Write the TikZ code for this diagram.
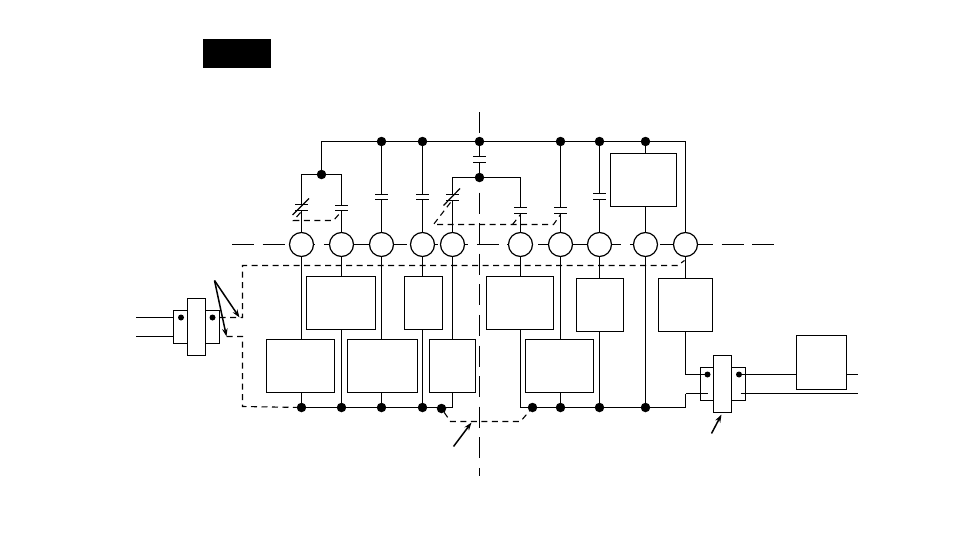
\documentclass[tikz,border=0pt]{standalone}
\usetikzlibrary{arrows.meta}
\tikzset{
  line/.style={line width=1.2pt,black},
  axisline/.style={line width=1.2pt,dash pattern=on 22pt off 8.6pt},
  vaxis/.style={line width=1.2pt,dash pattern=on 21pt off 9.6pt},
  dashline/.style={line width=1.1pt,dash pattern=on 6pt off 4.5pt},
  ring/.style={circle,draw,line width=1.2pt,fill=white,minimum size=24pt,inner sep=0pt,outer sep=0pt},
  boxn/.style={rectangle,draw,line width=1.2pt,fill=white,inner sep=0pt,outer sep=0pt},
  jdot/.style={circle,fill=black,minimum size=9.5pt,inner sep=0pt,outer sep=0pt},
  sdot/.style={circle,fill=black,minimum size=6pt,inner sep=0pt,outer sep=0pt},
  pointer/.style={line width=1.5pt,-{Stealth[length=8pt,width=5.5pt]}},
}
\newcommand{\capplates}[3]{\fill[white] (#1-7,#2+0.7) rectangle (#1+7,#3-0.7);
  \draw[line] (#1-6.5,#2) -- (#1+6.5,#2) (#1-6.5,#3) -- (#1+6.5,#3);}
\begin{document}
\begin{tikzpicture}[x=1pt,y=-1pt]
\useasboundingbox (-0.5,-0.5) rectangle (953.5,550.5);
\node[rectangle,fill=black,minimum width=68pt,minimum height=29pt,inner sep=0pt] (title) at (236.5,53) {};
% axes
\coordinate (axL) at (231.5,244); \coordinate (axR) at (774,244);
\coordinate (vT) at (479,112); \coordinate (vU) at (479,133);
\coordinate (vM) at (479,192); \coordinate (vB) at (479,475);
\draw[axisline] (axL) -- (axR);
\draw[line] (vT) -- (vU);
\draw[vaxis] (vM) -- (vB);
% rings
\foreach \n/\x in {c1/301,c2/341,c3/381,c4/422,c5/452,c6/520,c7/560,c8/599,c9/645,c10/685}
  \node[ring] (\n) at (\x,244) {};
% boxes
\node[boxn,minimum width=69pt,minimum height=53pt] (a) at (340.5,302.5) {};
\node[boxn,minimum width=38pt,minimum height=53pt] (b) at (423,302.5) {};
\node[boxn,minimum width=68pt,minimum height=53pt] (p) at (300,365.5) {};
\node[boxn,minimum width=70pt,minimum height=53pt] (q) at (382,365.5) {};
\node[boxn,minimum width=46pt,minimum height=53pt] (r) at (452,365.5) {};
\node[boxn,minimum width=67pt,minimum height=53pt] (d) at (519.5,302.5) {};
\node[boxn,minimum width=47pt,minimum height=53pt] (e) at (599.5,304.5) {};
\node[boxn,minimum width=54pt,minimum height=53pt] (f) at (685,304.5) {};
\node[boxn,minimum width=68pt,minimum height=53pt] (s) at (559,365.5) {};
\node[boxn,minimum width=66pt,minimum height=53pt] (top) at (643,179.5) {};
\node[boxn,minimum width=50pt,minimum height=54pt] (far) at (821,362) {};
% connector blocks
\node[boxn,minimum width=46pt,minimum height=33pt] (lo) at (196,326.5) {};
\node[boxn,minimum width=18pt,minimum height=57pt] (li) at (196,326.5) {};
\node[boxn,minimum width=45pt,minimum height=33pt] (ro) at (722.5,383.5) {};
\node[boxn,minimum width=18pt,minimum height=57pt] (ri) at (722,383.5) {};
% dots
\node[sdot] (l1) at (180.5,317) {};
\node[sdot] (l2) at (212,317) {};
\node[sdot] (r1) at (707,374) {};
\node[sdot] (r2) at (738.5,374) {};
\foreach \n/\x/\y in {t1/381/141,t2/422/141,t3/479/141,t4/560/141,t5/599/141,t6/645/141,
   u1/321/174,u2/479/177,
   g1/301/407,g2/341/407,g3/381/407,g4/422/407,g5/441/408,
   h1/532/407,h2/560/407,h3/599/407,h4/645/407}
  \node[jdot] (\n) at (\x,\y) {};
% supply bus
\coordinate (busR) at (685,141);
\coordinate (busL) at (321,141);
\draw[line] (u1) -- (busL) -- (busR) -- (c10.north);
\draw[line] (t1) -- (c3.north);
\draw[line] (t2) -- (c4.north);
\draw[line] (t4) -- (c7.north);
\draw[line] (t5) -- (c8.north);
\draw[line] (t6) -- (top.north -| t6);
\draw[line] (top.south -| t6) -- (c9.north);
\draw[line] (t3) -- (u2);
\draw[line] (c1.north) |- (u1) -| (c2.north);
\draw[line] (c5.north) |- (u2) -| (c6.north);
% capacitors
\capplates{301}{204}{210}
\capplates{341}{205}{210}
\capplates{381}{194}{199}
\capplates{422}{194}{199}
\capplates{452}{194}{200}
\capplates{479}{156}{162}
\capplates{520}{207}{213}
\capplates{560}{207}{213}
\capplates{599}{193}{199}
% trimmer slashes
\coordinate (s1a) at (292,214.5); \coordinate (s1b) at (308.5,198);
\coordinate (s2a) at (443,205); \coordinate (s2b) at (459.5,188);
\draw[line] (s1a) -- (s1b);
\draw[line] (s2a) -- (s2b);
% dashed couplings
\draw[dashline] (300,212) -- (293,220) -- (333,220) -- (340,212);
\draw[dashline] (450,202) -- (433,224) -- (553,224) -- (560,214);
\draw[dashline] (512,224) -- (520,214);
% risers and ground
\foreach \up/\lo in {c1/p,c3/q,c5/r,c7/s}{
  \draw[line] (\up.south) -- (\up.south |- \lo.north);
}
\foreach \up/\lo in {c2/a,c4/b,c6/d,c8/e,c10/f}{
  \draw[line] (\up.south) -- (\up.south |- \lo.north);
}
\draw[line] (c9.south) -- (h4);
\draw[line] (g1 |- p.south) -- (g1);
\draw[line] (g3 |- q.south) -- (g3);
\draw[line] (c5.south |- r.south) |- (g1);
\draw[line] (g2 |- a.south) -- (g2);
\draw[line] (g4 |- b.south) -- (g4);
\draw[line] (c6.south |- d.south) |- (h4);
\draw[line] (h2 |- s.south) -- (h2);
\draw[line] (h3 |- e.south) -- (h3);
% right side
\coordinate (rj1) at (685,374);
\coordinate (rj2) at (685,393);
\coordinate (rb) at (685,407);
\draw[line] (c10.south |- f.south) -- (rj1) -- (r1);
\draw[line] (h4) -- (rb);
\draw[line,line width=1.8pt] (rb) -- (rj2);
\draw[line] (rj2) -- (707,393);
\coordinate (e1) at (857.5,374);
\coordinate (e2) at (857.5,393);
\coordinate (r3) at (740,393);
\draw[line] (r2) -- (far.west |- r2);
\draw[line] (far.east |- e1) -- (e1);
\draw[line] (r3) -- (e2);
% left leads
\coordinate (w1) at (135.5,317); \coordinate (w2) at (135.5,336);
\draw[line] (w1) -- (lo.west |- w1);
\draw[line] (w2) -- (lo.west |- w2);
% dashed enclosure
\coordinate (dA) at (219,317); \coordinate (dB) at (242,317);
\coordinate (dC) at (242,265); \coordinate (dD) at (677,265);
\coordinate (dE) at (684,260);
\coordinate (dF) at (226,336); \coordinate (dG) at (242,336); \coordinate (dH) at (242,406);
\draw[dashline] (dA) -- (dB) -- (dC) -- (dD) -- (dE);
\draw[dashline] (dF) -- (dG) -- (dH) -- (g1);
\coordinate (dJ) at (450,421); \coordinate (dK) at (520,421);
\draw[dashline] (g5) -- (dJ) -- (dK) -- (h1);
% pointers
\coordinate (p0) at (214,280);
\coordinate (p1) at (239,317); \coordinate (p2) at (226,336);
\draw[pointer] (p0) -- (p1);
\draw[pointer] (p0) -- (p2);
\coordinate (p3) at (453,446); \coordinate (p4) at (471,422);
\draw[pointer] (p3) -- (p4);
\coordinate (p5) at (711,433); \coordinate (p6) at (721,414);
\draw[pointer] (p5) -- (p6);
\end{tikzpicture}
\end{document}
